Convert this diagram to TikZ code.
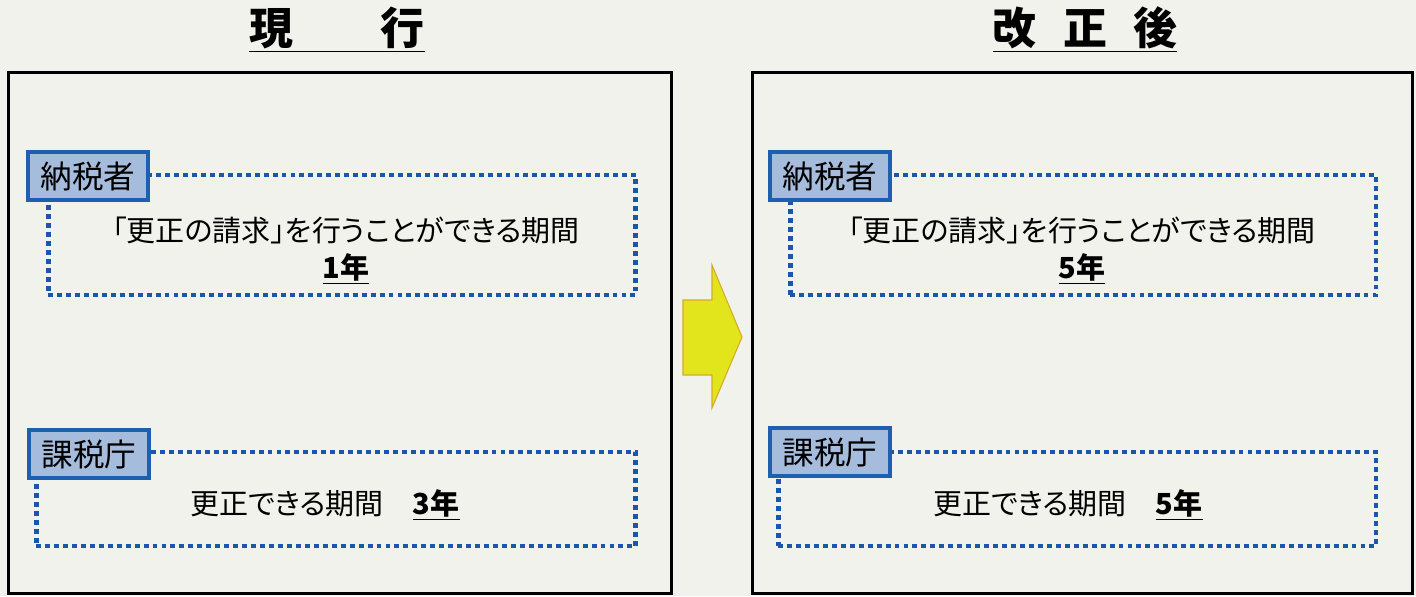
\documentclass[tikz,border=0pt]{standalone}
\usepackage{fontspec}
\setmainfont{Noto Sans CJK JP}[RawFeature=+palt]
\usepackage{tikz}
\usetikzlibrary{positioning}
\usepackage{xcolor}
\definecolor{paper}{RGB}{241,242,235}
\definecolor{tagblue}{RGB}{31,95,175}
\definecolor{tagfill}{RGB}{166,188,220}
\definecolor{dotblue}{RGB}{28,86,170}
\definecolor{arrowyellow}{RGB}{226,228,28}
\definecolor{arrowedge}{RGB}{214,170,40}

\begin{document}
\begin{tikzpicture}[
    x=0.02cm, y=-0.02cm,
    every node/.style={font=\fontsize{16.5pt}{21pt}\selectfont, inner sep=0pt},
    panel/.style={rectangle, draw=black, line width=1.7pt, minimum width=13.28cm, minimum height=10.44cm},
    frame/.style={rectangle, draw=dotblue, line width=2.8pt, dash pattern=on 2.8pt off 2.3pt, minimum height=2.4cm},
    tag/.style={rectangle, draw=tagblue, fill=tagfill, line width=1.8pt, minimum width=2.4cm, minimum height=0.96cm, font=\fontsize{18pt}{20pt}\selectfont},
    title/.style={font=\fontsize{25pt}{28pt}\selectfont\bfseries}
]

% Background
\fill[paper] (0,0) rectangle (1416,596);

% Titles
\node[title] (curtitle) at (337,30) {\underline{現　　行}};
\node[title] (newtitle) at (1085,30) {\underline{改\kern0.6em正\kern0.6em後}};

% Panels
\node[panel] (curpanel) at (340,333) {};
\node[panel, minimum width=13.22cm] (newpanel) at (1082.5,333) {};

% Arrow between panels
\draw[arrowedge, fill=arrowyellow, line width=0.6pt]
    (683,300) -- (712,300) -- (712,265) -- (742,337) -- (712,408) -- (712,375) -- (683,375) -- cycle;

% Current rules (left)
\node[frame, minimum width=11.76cm] (curpayframe) at (342,235) {};
\node[frame, minimum width=12cm, minimum height=1.88cm] (curoffframe) at (336,499) {};
\node[tag] (curpay) at (88,176) {納税者};
\node[tag] (curoff) at (89,454) {課税庁};
\node[align=center] (curpaytext) at (346,251) {「更正の請求」を行うことができる期間\\\textbf{\underline{1年}}};
\node (curofftext) at (325,505) {更正できる期間\quad\textbf{\underline{3年}}};

% Revised rules (right)
\node[frame, minimum width=11.72cm] (newpayframe) at (1083,235) {};
\node[frame, minimum width=11.96cm, minimum height=1.88cm] (newoffframe) at (1077,499) {};
\node[tag] (newpay) at (830,176) {納税者};
\node[tag] (newoff) at (830,452) {課税庁};
\node[align=center] (newpaytext) at (1082,251) {「更正の請求」を行うことができる期間\\\textbf{\underline{5年}}};
\node (newofftext) at (1068,505) {更正できる期間\quad\textbf{\underline{5年}}};

\end{tikzpicture}
\end{document}
